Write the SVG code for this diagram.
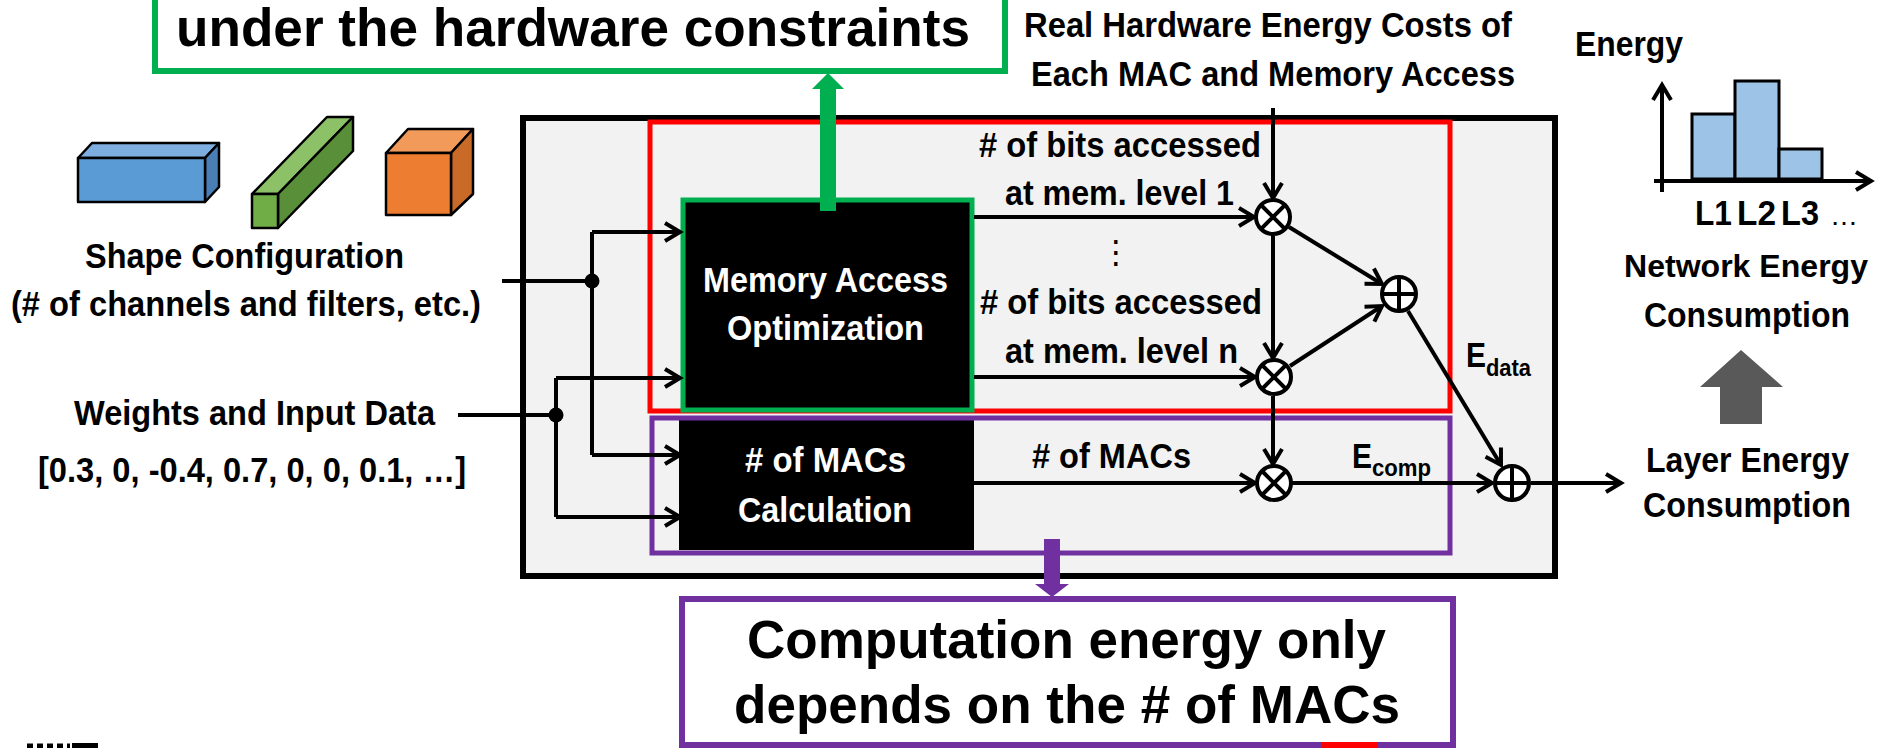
<svg xmlns="http://www.w3.org/2000/svg" width="1879" height="748" viewBox="0 0 1879 748">
  <defs>
    <style>
      .t { font-family: "Liberation Sans", Arial, sans-serif; font-weight: bold; font-size: 35px; fill: #000; }
      .big { font-size: 53px; }
      .sub { font-size: 24px; }
      .w { fill: #fff; }
      .ln { stroke: #000; stroke-width: 4; fill: none; }
      .op { stroke: #000; stroke-width: 4; fill: #fff; }
      .bar { fill: #9DC3E6; stroke: #000; stroke-width: 3; }
      .edge { stroke: #000; stroke-width: 2.5; stroke-linejoin: round; }
    </style>
    <marker id="arr" viewBox="-20 -12 24 24" markerWidth="24" markerHeight="24" refX="0" refY="0" orient="auto" markerUnits="userSpaceOnUse">
      <path d="M-15,-9 L0,0 L-15,9" fill="none" stroke="#000" stroke-width="4" stroke-linejoin="miter"/>
    </marker>
  </defs>

  <rect width="1879" height="748" fill="#fff"/>

  <!-- callout: memory access optimisation -->
  <g id="note-hw">
    <rect x="155" y="-10" width="850" height="81" fill="#fff" stroke="#00B050" stroke-width="6"/>
    <text class="t big" x="176" y="46" textLength="794" lengthAdjust="spacingAndGlyphs">under the hardware constraints</text>
  </g>

  <!-- tensor shapes -->
  <g id="shapes">
    <!-- blue slab -->
    <polygon points="78,158 92,143 219,143 205,158" fill="#7EAEE0" class="edge"/>
    <polygon points="205,158 219,143 219,187 205,202" fill="#4A7FB5" class="edge"/>
    <rect x="78" y="158" width="127" height="44" fill="#5B9BD5" class="edge"/>
    <!-- green rod -->
    <polygon points="252,194 327,117 353,117 278,194" fill="#8CC168" class="edge"/>
    <polygon points="278,194 353,117 353,151 278,228" fill="#5A8F3A" class="edge"/>
    <rect x="252" y="194" width="26" height="34" fill="#70AD47" class="edge"/>
    <!-- orange cube -->
    <polygon points="386,153 408,129 473,129 451,153" fill="#F19A5A" class="edge"/>
    <polygon points="451,153 473,129 473,194 451,215" fill="#C96A28" class="edge"/>
    <rect x="386" y="153" width="65" height="62" fill="#ED7D31" class="edge"/>
  </g>

  <g id="shape-label">
    <text class="t" x="85" y="268" textLength="319" lengthAdjust="spacingAndGlyphs">Shape Configuration</text>
    <text class="t" x="11" y="316" textLength="470" lengthAdjust="spacingAndGlyphs">(# of channels and filters, etc.)</text>
  </g>

  <g id="data-label">
    <text class="t" x="74" y="425" textLength="361" lengthAdjust="spacingAndGlyphs">Weights and Input Data</text>
    <text class="t" x="38" y="482" textLength="428" lengthAdjust="spacingAndGlyphs">[0.3, 0, -0.4, 0.7, 0, 0, 0.1, …]</text>
  </g>

  <g id="cost-label">
    <text class="t" x="1024" y="37" textLength="488" lengthAdjust="spacingAndGlyphs">Real Hardware Energy Costs of</text>
    <text class="t" x="1031" y="86" textLength="484" lengthAdjust="spacingAndGlyphs">Each MAC and Memory Access</text>
  </g>

  <!-- energy estimation frame -->
  <g id="frame">
    <rect x="523" y="118" width="1032" height="458" fill="#F2F2F2" stroke="#000" stroke-width="6"/>
  </g>

  <g id="data-region">
    <rect x="650" y="122" width="800" height="289" fill="none" stroke="#FF0000" stroke-width="5"/>
  </g>

  <g id="mem-opt">
    <rect x="683" y="200" width="289" height="210" fill="#000" stroke="#00B050" stroke-width="5"/>
    <text class="t w" x="703" y="292" textLength="245" lengthAdjust="spacingAndGlyphs">Memory Access</text>
    <text class="t w" x="727" y="340" textLength="197" lengthAdjust="spacingAndGlyphs">Optimization</text>
  </g>

  <g id="mac-calc">
    <rect x="679" y="420" width="295" height="130" fill="#000"/>
    <text class="t w" x="745" y="472" textLength="161" lengthAdjust="spacingAndGlyphs"># of MACs</text>
    <text class="t w" x="738" y="522" textLength="174" lengthAdjust="spacingAndGlyphs">Calculation</text>
  </g>

  <g id="comp-region">
    <rect x="652" y="418" width="798" height="135" fill="none" stroke="#7030A0" stroke-width="5"/>
  </g>

  <!-- connectors -->
  <g id="connectors">
    <!-- shape configuration fan-out -->
    <path class="ln" d="M502,281 H592"/>
    <path class="ln" d="M592,232 V455"/>
    <path class="ln" d="M592,232 H680" marker-end="url(#arr)"/>
    <path class="ln" d="M592,455 H680" marker-end="url(#arr)"/>
    <circle cx="592" cy="281" r="7.5" fill="#000"/>
    <!-- weights / input data fan-out -->
    <path class="ln" d="M458,415 H556"/>
    <path class="ln" d="M556,378 V517"/>
    <path class="ln" d="M556,378 H680" marker-end="url(#arr)"/>
    <path class="ln" d="M556,517 H680" marker-end="url(#arr)"/>
    <circle cx="556" cy="415" r="7.5" fill="#000"/>

    <!-- per-level bit counts into multipliers -->
    <path class="ln" d="M974,217 H1254" marker-end="url(#arr)"/>
    <path class="ln" d="M974,377 H1255" marker-end="url(#arr)"/>
    <path class="ln" d="M974,483 H1255" marker-end="url(#arr)"/>

    <!-- hardware cost chain -->
    <path class="ln" d="M1273,108 V198" marker-end="url(#arr)"/>
    <path class="ln" d="M1273,236 V358" marker-end="url(#arr)"/>
    <path class="ln" d="M1273,396 V464" marker-end="url(#arr)"/>

    <!-- products into data adder -->
    <path class="ln" d="M1289,227 L1382,284" marker-end="url(#arr)"/>
    <path class="ln" d="M1290,366 L1382,306" marker-end="url(#arr)"/>

    <!-- E_data and E_comp into total adder -->
    <path class="ln" d="M1408,311 L1501,465" marker-end="url(#arr)"/>
    <path class="ln" d="M1292,483 H1492" marker-end="url(#arr)"/>

    <!-- layer energy output -->
    <path class="ln" d="M1531,483 H1621" marker-end="url(#arr)"/>

    <!-- callout pointers -->
    <rect x="820" y="89" width="16" height="122" fill="#00B050"/>
    <polygon points="812,89 844,89 828,73" fill="#00B050"/>
    <rect x="1044" y="539" width="16" height="46" fill="#7030A0"/>
    <polygon points="1035,584 1069,584 1052,597" fill="#7030A0"/>
  </g>

  <!-- operators -->
  <g id="mul-1">
    <circle class="op" cx="1273" cy="217" r="17"/>
    <path class="ln" d="M1261,205 L1285,229 M1285,205 L1261,229"/>
  </g>
  <g id="mul-n">
    <circle class="op" cx="1274" cy="377" r="17"/>
    <path class="ln" d="M1262,365 L1286,389 M1286,365 L1262,389"/>
  </g>
  <g id="mul-mac">
    <circle class="op" cx="1274" cy="483" r="17"/>
    <path class="ln" d="M1262,471 L1286,495 M1286,471 L1262,495"/>
  </g>
  <g id="add-data">
    <circle class="op" cx="1399" cy="294" r="17"/>
    <path class="ln" d="M1382,294 H1416 M1399,277 V311"/>
  </g>
  <g id="add-total">
    <circle class="op" cx="1512" cy="483" r="17"/>
    <path class="ln" d="M1495,483 H1529 M1512,466 V500"/>
  </g>

  <!-- connector labels -->
  <g id="flow-labels">
    <text class="t" x="979" y="157" textLength="282" lengthAdjust="spacingAndGlyphs"># of bits accessed</text>
    <text class="t" x="1005" y="205" textLength="229" lengthAdjust="spacingAndGlyphs">at mem. level 1</text>
    <text class="t" x="1116" y="263" text-anchor="middle" style="font-family:'DejaVu Sans',sans-serif;font-size:32px;font-weight:normal">⋮</text>
    <text class="t" x="980" y="314" textLength="282" lengthAdjust="spacingAndGlyphs"># of bits accessed</text>
    <text class="t" x="1005" y="363" textLength="233" lengthAdjust="spacingAndGlyphs">at mem. level n</text>
    <text class="t" x="1032" y="468" textLength="159" lengthAdjust="spacingAndGlyphs"># of MACs</text>
    <text class="t" x="1352" y="468"><tspan textLength="20" lengthAdjust="spacingAndGlyphs">E</tspan><tspan class="sub" x="1372" y="476" textLength="59" lengthAdjust="spacingAndGlyphs">comp</tspan></text>
    <text class="t" x="1466" y="367"><tspan textLength="20" lengthAdjust="spacingAndGlyphs">E</tspan><tspan class="sub" x="1486" y="376" textLength="45" lengthAdjust="spacingAndGlyphs">data</tspan></text>
  </g>

  <!-- per-layer energy chart -->
  <g id="energy-chart">
    <text class="t" x="1575" y="56" textLength="108" lengthAdjust="spacingAndGlyphs">Energy</text>
    <rect class="bar" x="1692" y="114" width="43" height="65"/>
    <rect class="bar" x="1735" y="81" width="44" height="98"/>
    <rect class="bar" x="1779" y="149" width="43" height="30"/>
    <path class="ln" d="M1662,192 V85" marker-end="url(#arr)"/>
    <path class="ln" d="M1654,181 H1871" marker-end="url(#arr)"/>
    <text class="t" x="1695" y="225" textLength="37" lengthAdjust="spacingAndGlyphs">L1</text>
    <text class="t" x="1737" y="225" textLength="39" lengthAdjust="spacingAndGlyphs">L2</text>
    <text class="t" x="1781" y="225" textLength="38" lengthAdjust="spacingAndGlyphs">L3</text>
    <text class="t" x="1830" y="225" style="font-weight:normal;font-size:28px">…</text>
  </g>

  <g id="network-energy">
    <text class="t" x="1624" y="277" style="font-size:32px" textLength="244" lengthAdjust="spacingAndGlyphs">Network Energy</text>
    <text class="t" x="1644" y="327" textLength="206" lengthAdjust="spacingAndGlyphs">Consumption</text>
  </g>

  <g id="aggregate-arrow">
    <polygon points="1741,350 1783,387 1762,387 1762,424 1720,424 1720,387 1700,387" fill="#595959"/>
  </g>

  <g id="layer-energy">
    <text class="t" x="1646" y="472" textLength="203" lengthAdjust="spacingAndGlyphs">Layer Energy</text>
    <text class="t" x="1643" y="517" textLength="208" lengthAdjust="spacingAndGlyphs">Consumption</text>
  </g>

  <!-- callout: computation energy -->
  <g id="note-comp">
    <rect x="682" y="599" width="771" height="146" fill="#fff" stroke="#7030A0" stroke-width="6"/>
    <text class="t big" x="747" y="658" textLength="639" lengthAdjust="spacingAndGlyphs">Computation energy only</text>
    <text class="t big" x="734" y="723" textLength="666" lengthAdjust="spacingAndGlyphs">depends on the # of MACs</text>
  </g>

  <!-- page footer marks -->
  <g id="footer">
    <path d="M27,746 H70" stroke="#000" stroke-width="5" stroke-dasharray="6,4"/>
    <rect x="72" y="743" width="26" height="5" fill="#000"/>
    <rect x="1322" y="742" width="56" height="6" fill="#FF0000"/>
  </g>
</svg>
